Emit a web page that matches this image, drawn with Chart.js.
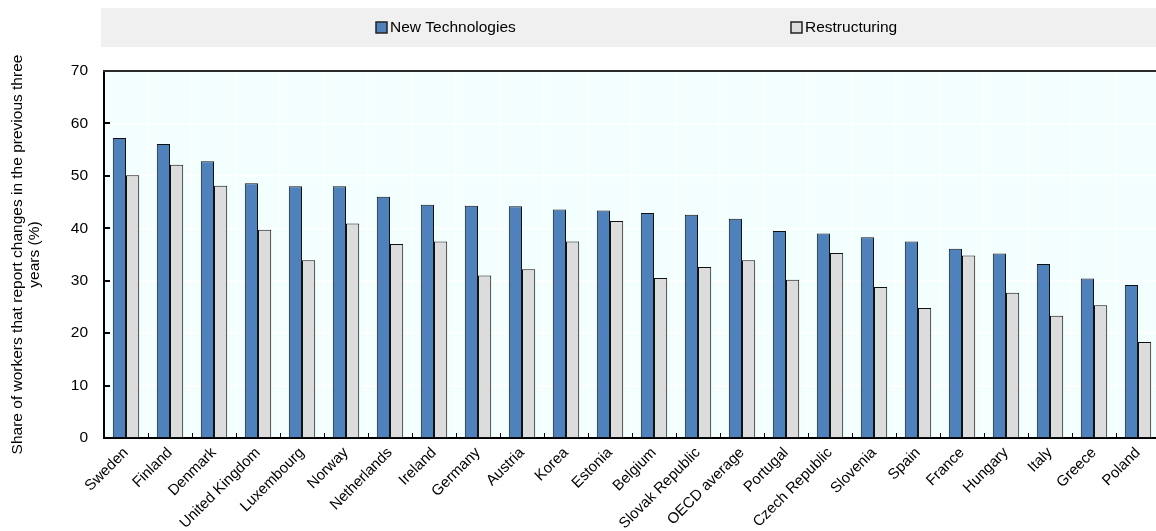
<!DOCTYPE html>
<html>
<head>
<meta charset="utf-8">
<script src="https://cdn.jsdelivr.net/npm/chart.js@4.4.1/dist/chart.umd.min.js"></script>
<style>
  html, body { margin: 0; padding: 0; background: #fff; overflow: hidden; }
  #wrap { width: 1160px; height: 531px; }
</style>
</head>
<body>
<div id="wrap"><canvas id="chart"></canvas></div>
<script>
// Share of workers reporting changes in the previous three years (%)
const countries = ['Sweden', 'Finland', 'Denmark', 'United Kingdom', 'Luxembourg', 'Norway',
  'Netherlands', 'Ireland', 'Germany', 'Austria', 'Korea', 'Estonia', 'Belgium',
  'Slovak Republic', 'OECD average', 'Portugal', 'Czech Republic', 'Slovenia', 'Spain',
  'France', 'Hungary', 'Italy', 'Greece', 'Poland'];
const newTechnologies = [57.2, 56.1, 52.8, 48.6, 48.0, 48.0, 46.0, 44.5, 44.3, 44.2, 43.6, 43.4,
  42.9, 42.6, 41.8, 39.5, 39.0, 38.3, 37.5, 36.1, 35.2, 33.2, 30.4, 29.2];
const restructuring = [50.1, 52.1, 48.1, 39.7, 33.9, 40.9, 37.0, 37.5, 31.0, 32.2, 37.5, 41.4,
  30.5, 32.6, 33.9, 30.2, 35.3, 28.8, 24.8, 34.8, 27.7, 23.3, 25.3, 18.3];
const yMin = 0, yMax = 70, yStep = 10;
const yTitle = ['Share of workers that report changes in the previous three', 'years (%)'];

const FONT = "'Liberation Sans', Arial, sans-serif";

// background panel, legend strip, top rule, inward tick marks, legend entries
const frame = {
  id: 'frame',
  beforeDraw(chart) {
    const { ctx, chartArea: a } = chart;
    ctx.save();
    ctx.fillStyle = '#F0F0F0';
    ctx.fillRect(101, 8, chart.width - 101, 39);
    ctx.fillStyle = '#F3FFFF';
    ctx.fillRect(a.left, a.top, a.right - a.left, a.bottom - a.top);
    ctx.restore();
  },
  afterDraw(chart) {
    const { ctx, chartArea: a, scales: { x, y } } = chart;
    ctx.save();
    ctx.strokeStyle = '#000';
    // y ticks pointing into the plot
    ctx.lineWidth = 2;
    for (let v = yMin + yStep; v <= yMax; v += yStep) {
      const py = Math.round(y.getPixelForValue(v));
      ctx.beginPath();
      ctx.moveTo(a.left, py);
      ctx.lineTo(a.left + 6, py);
      ctx.stroke();
    }
    // x ticks between categories
    ctx.lineWidth = 1;
    for (let i = 1; i < countries.length; i++) {
      const px = Math.round((x.getPixelForValue(i - 1) + x.getPixelForValue(i)) / 2) + 0.5;
      ctx.beginPath();
      ctx.moveTo(px, a.bottom);
      ctx.lineTo(px, a.bottom - 5);
      ctx.stroke();
    }
    // top rule
    ctx.strokeStyle = '#2b2b2b';
    ctx.lineWidth = 2;
    ctx.beginPath();
    ctx.moveTo(a.left - 1, a.top);
    ctx.lineTo(chart.width, a.top);
    ctx.stroke();

    // legend entries
    const items = [[376, chart.data.datasets[0]], [791, chart.data.datasets[1]]];
    ctx.font = '15.5px ' + FONT;
    ctx.textBaseline = 'middle';
    ctx.textAlign = 'left';
    for (const [lx, ds] of items) {
      ctx.fillStyle = ds.backgroundColor;
      ctx.fillRect(lx, 22, 11, 11);
      ctx.strokeStyle = '#222';
      ctx.lineWidth = 1.5;
      ctx.strokeRect(lx, 22, 11, 11);
      ctx.fillStyle = '#000';
      ctx.fillText(ds.label, lx + 14, 28);
    }
    ctx.restore();
  }
};

new Chart(document.getElementById('chart'), {
  type: 'bar',
  data: {
    labels: countries,
    datasets: [
      {
        label: 'New Technologies',
        data: newTechnologies,
        backgroundColor: '#4F81BD',
        borderColor: '#111',
        borderWidth: 1
      },
      {
        label: 'Restructuring',
        data: restructuring,
        backgroundColor: '#DCDCDC',
        borderColor: '#111',
        borderWidth: 1
      }
    ]
  },
  options: {
    responsive: true,
    maintainAspectRatio: false,
    animation: false,
    layout: { padding: { top: 71, left: 0, right: 0, bottom: 0 } },
    datasets: { bar: { categoryPercentage: 0.6, barPercentage: 1 } },
    plugins: {
      legend: { display: false },
      tooltip: { enabled: false }
    },
    scales: {
      x: {
        afterFit(s) { s.height = 93; },
        grid: { color: '#FFFFFF', lineWidth: 1.5, drawTicks: false, offset: true },
        border: { color: '#000', width: 2 },
        ticks: {
          autoSkip: false,
          minRotation: 45,
          maxRotation: 45,
          padding: 6,
          color: '#000',
          font: { family: FONT, size: 15 }
        }
      },
      y: {
        min: yMin,
        max: yMax,
        afterFit(s) { s.width = 104; },
        grid: { color: '#FFFFFF', lineWidth: 1.5, drawTicks: false },
        border: { color: '#000', width: 2 },
        ticks: {
          stepSize: yStep,
          padding: 16,
          color: '#000',
          font: { family: FONT, size: 15.5 }
        },
        title: {
          display: true,
          text: yTitle,
          color: '#000',
          padding: { top: 9, bottom: 0 },
          font: { family: FONT, size: 15.5, lineHeight: 1.1 }
        }
      }
    }
  },
  plugins: [frame]
});
</script>
</body>
</html>
